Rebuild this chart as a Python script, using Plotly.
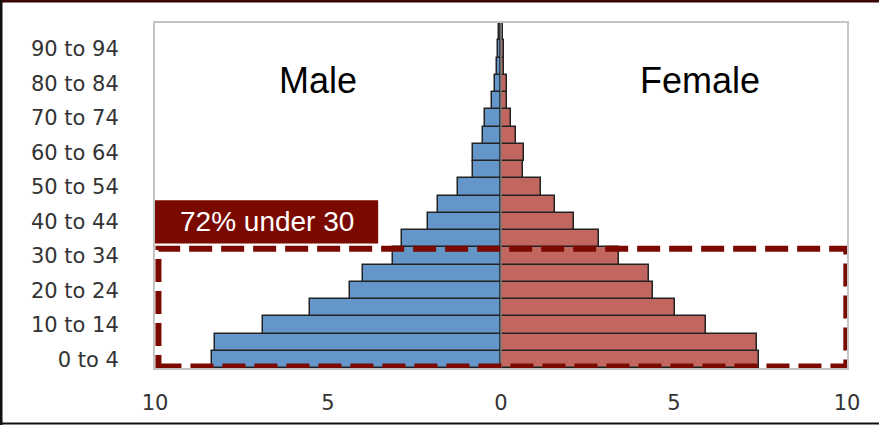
import plotly.graph_objects as go

# Age groups (5-year bands) and share of population (%) by sex
age_groups = [
    "0 to 4", "5 to 9", "10 to 14", "15 to 19", "20 to 24", "25 to 29",
    "30 to 34", "35 to 39", "40 to 44", "45 to 49", "50 to 54", "55 to 59",
    "60 to 64", "65 to 69", "70 to 74", "75 to 79", "80 to 84", "85 to 89",
    "90 to 94", "95 to 99",
]
male = [8.34, 8.27, 6.87, 5.53, 4.36, 4.00, 3.13, 2.85, 2.10, 1.83,
        1.25, 0.82, 0.82, 0.53, 0.47, 0.25, 0.18, 0.13, 0.09, 0.07]
female = [7.46, 7.39, 5.92, 5.03, 4.40, 4.27, 3.41, 2.83, 2.10, 1.55,
          1.15, 0.64, 0.66, 0.42, 0.30, 0.16, 0.16, 0.10, 0.09, 0.07]

x_tick_vals = [-10, -5, 0, 5, 10]
x_tick_text = ["10", "5", "0", "5", "10"]
callout_text = "72% under 30"

W, H = 879, 425
ML, MR, MT, MB = 155, 32, 23, 57
PW, PH = W - ML - MR, H - MT - MB

rows = list(range(len(age_groups)))
dark_red = "#7a0a00"

fig = go.Figure()
fig.add_trace(go.Bar(
    y=rows, x=[-v for v in male], orientation="h", name="Male",
    width=1.0, marker=dict(color="#6596c9", line=dict(color="#222222", width=1.5)),
    customdata=male, hovertemplate="%{customdata}%<extra>Male</extra>",
))
fig.add_trace(go.Bar(
    y=rows, x=female, orientation="h", name="Female",
    width=1.0, marker=dict(color="#c1675f", line=dict(color="#222222", width=1.5)),
    hovertemplate="%{x}%<extra>Female</extra>",
))

shapes = [
    # zero line through the bars
    dict(type="line", xref="x", yref="paper", x0=0, x1=0, y0=0, y1=1,
         line=dict(color="#7f7f7f", width=1.5), layer="above"),
    # dashed highlight around the under-30 bands
    dict(type="rect", xref="x", yref="y", x0=-9.9, x1=9.98, y0=-0.42, y1=6.42,
         line=dict(color=dark_red, width=6, dash="23px,9px"), layer="above"),
    # callout background
    dict(type="rect", xref="x", yref="y", x0=-10.0, x1=-3.55, y0=6.72, y1=9.22,
         line=dict(width=0), fillcolor=dark_red, layer="above"),
]

# outer frame: maroon top edge, black left and bottom edges
def px_x(p):
    return (p - ML) / PW

def px_y(p):
    return (H - MB - p) / PH

shapes += [
    dict(type="line", xref="paper", yref="paper", x0=px_x(0), x1=px_x(W),
         y0=px_y(1), y1=px_y(1), line=dict(color="#3a0505", width=3)),
    dict(type="line", xref="paper", yref="paper", x0=px_x(1), x1=px_x(1),
         y0=px_y(0), y1=px_y(H), line=dict(color="#111111", width=3)),
    dict(type="line", xref="paper", yref="paper", x0=px_x(0), x1=px_x(W),
         y0=px_y(H - 1.5), y1=px_y(H - 1.5), line=dict(color="#111111", width=2)),
]

annotations = [
    dict(x=-6.75, y=7.97, xref="x", yref="y", text=callout_text, showarrow=False,
         font=dict(family="Liberation Sans, Arial", size=28, color="white")),
    dict(x=-5.3, y=16.14, xref="x", yref="y", text="Male", showarrow=False,
         font=dict(family="Liberation Sans, Arial", size=36, color="black")),
    dict(x=5.75, y=16.14, xref="x", yref="y", text="Female", showarrow=False,
         font=dict(family="Liberation Sans, Arial", size=36, color="black")),
]

tick_font = dict(family="DejaVu Sans", size=21, color="#333333")

fig.update_layout(
    width=W, height=H,
    margin=dict(l=ML, r=MR, t=MT, b=MB, pad=0, autoexpand=False),
    paper_bgcolor="white", plot_bgcolor="white",
    barmode="overlay", bargap=0,
    showlegend=False,
    shapes=shapes, annotations=annotations,
    xaxis=dict(
        range=[-10, 10], tickvals=x_tick_vals, ticktext=x_tick_text,
        showgrid=False, zeroline=False, showline=True, mirror=True,
        linecolor="#c4c4c4", linewidth=2, ticks="", tickfont=tick_font,
        ticklabelstandoff=15, automargin=False, fixedrange=True,
    ),
    yaxis=dict(
        range=[-0.5, 19.5], tickvals=rows[::2], ticktext=age_groups[::2],
        showgrid=False, zeroline=False, showline=True, mirror=True,
        linecolor="#c4c4c4", linewidth=2, ticks="", tickfont=tick_font,
        ticklabelstandoff=30, automargin=False, fixedrange=True,
    ),
)

fig.write_html("out.html")
